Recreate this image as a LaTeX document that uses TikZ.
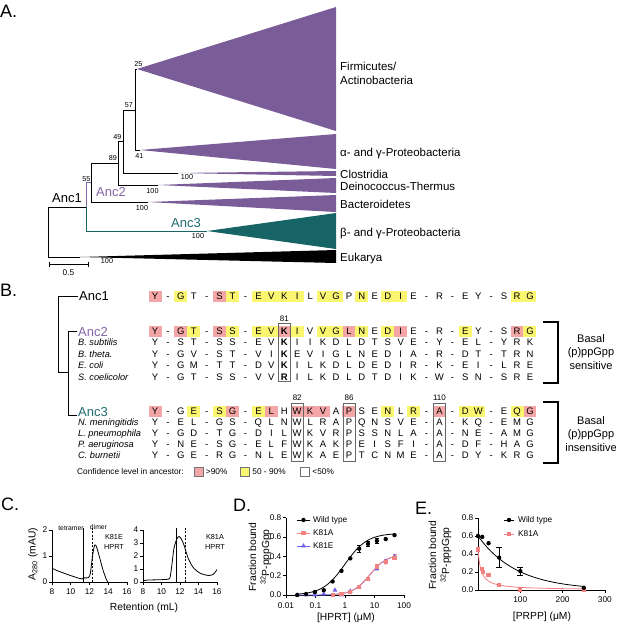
\documentclass[tikz,border=0pt]{standalone}
\usepackage{fontspec}
\setmainfont{Liberation Sans}
\usetikzlibrary{positioning,shapes.geometric}

\definecolor{cladepurple}{RGB}{122,92,153}
\definecolor{cladeteal}{RGB}{22,100,102}
\definecolor{anctwo}{RGB}{130,102,170}
\definecolor{ancthree}{RGB}{30,108,110}
\definecolor{hipink}{RGB}{244,166,166}
\definecolor{hiyellow}{RGB}{250,246,112}
\definecolor{mutpink}{RGB}{242,130,130}
\definecolor{mutblue}{RGB}{108,96,232}

% one aligned row: name, y, residues
\newcommand{\seqrow}[3]{%
  \foreach \c [count=\i from 0] in {#3}
    \node[aa] (#1-\i) at (155+12.93*\i, #2) {\c};}
% shaded cells: colour, y, columns
\newcommand{\cellfill}[3]{%
  \foreach \i in {#3}
    \fill[#1] (148.5+12.93*\i, #2-5.5) rectangle (161.5+12.93*\i, #2+5.5);}
% boxed column: column, top, bottom
\newcommand{\colbox}[3]{%
  \draw[boxline] (149+12.93*#1, #2) rectangle (161+12.93*#1, #3);}

\begin{document}
\begin{tikzpicture}[x=1pt,y=-1pt,
  panel/.style={font=\fontsize{18}{20}\selectfont, anchor=west, inner sep=0pt},
  clade/.style={font=\fontsize{11.5}{13}\selectfont, anchor=west, inner sep=0pt, text height=8.2pt, text depth=0pt},
  support/.style={font=\fontsize{7.2}{8}\selectfont, inner sep=0pt},
  ancname/.style={font=\fontsize{13}{15}\selectfont, inner sep=0pt, text height=9.3pt, text depth=0pt},
  branch/.style={line width=0.9pt},
  aa/.style={font=\fontsize{9.5}{11}\selectfont, inner sep=0pt, text height=6.8pt, text depth=0pt},
  species/.style={font=\fontsize{9.2}{11}\selectfont\itshape, anchor=west, inner sep=0pt, text height=6.6pt, text depth=0pt},
  posnum/.style={font=\fontsize{8}{9}\selectfont, inner sep=0pt},
  boxline/.style={draw=black!60, line width=0.7pt},
  bracket/.style={line width=1.1pt},
  legtext/.style={font=\fontsize{8.3}{10}\selectfont, inner sep=0pt},
  legbox/.style={draw=black!55, line width=0.5pt, minimum size=9pt, inner sep=0pt},
  axis/.style={line width=0.8pt},
  tick/.style={font=\fontsize{8.3}{9}\selectfont, inner sep=0pt},
  small/.style={font=\fontsize{7.3}{9.5}\selectfont, inner sep=0pt},
  axtitle/.style={font=\fontsize{10.3}{13}\selectfont, inner sep=0pt},
  curve/.style={line width=0.8pt},
  wtdot/.style={circle, fill=black, inner sep=0pt, minimum size=4.4pt},
  asq/.style={rectangle, fill=mutpink, inner sep=0pt, minimum size=4.2pt},
  etri/.style={regular polygon, regular polygon sides=3, fill=mutblue, inner sep=0pt, minimum size=5.6pt},
  errbar/.style={line width=0.8pt},
]
\useasboundingbox (0,0) rectangle (617,625);

%% A. tree of HPRT
\node[panel] (pA) at (0,11) {A.};

\fill[cladepurple] (137,69) -- (336,7) -- (336,131) -- cycle;
\fill[cladepurple] (140,150) -- (336,134) -- (336,169) -- cycle;
\fill[cladepurple] (178,173) -- (336,171) -- (336,176) -- cycle;
\fill[cladepurple] (158,185) -- (336,178) -- (336,193) -- cycle;
\fill[cladepurple] (148,202) -- (336,195) -- (336,212) -- cycle;
\fill[cladeteal] (207,231) -- (336,213) -- (336,249) -- cycle;
\fill[black] (80,257) -- (336,250) -- (336,263) -- cycle;

\draw[branch] (135,69) -- (137,69);
\draw[branch] (135,69) -- (135,150) -- (140,150);
\draw[branch] (123,110) -- (135,110);
\draw[branch] (123,110) -- (123,173) -- (178,173);
\draw[branch] (118,141) -- (123,141);
\draw[branch] (118,141) -- (118,185) -- (158,185);
\draw[branch] (91,163) -- (118,163);
\draw[branch] (91,163) -- (91,202) -- (148,202);
\draw[branch, anctwo] (91,182) -- (86,182) -- (86,207.4);
\draw[branch, cladeteal] (86,206.6) -- (86,231) -- (207,231);
\draw[branch] (86,207) -- (48,207) -- (48,257) -- (80,257);

\node[support] (s25) at (138.5,64) {25};
\node[support] (s57) at (129,105) {57};
\node[support] (s49) at (117.5,137) {49};
\node[support] (s41) at (139.5,156) {41};
\node[support] (s89) at (113,158) {89};
\node[support] (s55) at (86.5,179.5) {55};
\node[support] (s100a) at (187,177) {100};
\node[support] (s100b) at (152.5,191) {100};
\node[support] (s100c) at (142,208) {100};
\node[support] (s100d) at (198,236) {100};
\node[support] (s100e) at (107,261) {100};

\node[ancname] (tA1) at (67,198) {Anc1};
\node[ancname, anctwo] (tA2) at (111,192) {Anc2};
\node[ancname, ancthree] (tA3) at (186,223) {Anc3};

\draw[branch] (49,264) -- (88,264);
\draw[branch] (49,261.5) -- (49,266.5);
\draw[branch] (88,261.5) -- (88,266.5);
\node[tick] (scl) at (68.5,273) {0.5};

\node[clade] (firm) at (340,66) {Firmicutes/};
\node[clade] (actino) at (340,80) {Actinobacteria};
\node[clade] (alpha) at (340,152) {α- and γ-Proteobacteria};
\node[clade] (clos) at (340,174) {Clostridia};
\node[clade] (deino) at (340,186.5) {Deinococcus-Thermus};
\node[clade] (bact) at (340,204) {Bacteroidetes};
\node[clade] (beta) at (340,232) {β- and γ-Proteobacteria};
\node[clade] (euk) at (340,257) {Eukarya};

%% B. alignment
\node[panel] (pB) at (0,290) {B.};

\draw[branch] (78,296) -- (58,296) -- (58,372) -- (68,372);
\draw[branch] (77,331.5) -- (68,331.5) -- (68,415) -- (77,415);

\node[ancname, anchor=west] (bA1) at (79,296) {Anc1};
\node[ancname, anchor=west, anctwo] (bA2) at (78,331.5) {Anc2};
\node[ancname, anchor=west, ancthree] (bA3) at (78,411.5) {Anc3};
\node[species] (bsub) at (78,342.5) {B. subtilis};
\node[species] (bthe) at (78,354) {B. theta.};
\node[species] (ecol) at (78,365.5) {E. coli};
\node[species] (scoe) at (78,377) {S. coelicolor};
\node[species] (nmen) at (78,422.5) {N. meningitidis};
\node[species] (lpne) at (78,433.5) {L. pneumophila};
\node[species] (paer) at (78,444.5) {P. aeruginosa};
\node[species] (cbur) at (78,455.5) {C. burnetii};

\cellfill{hipink}{296}{0,5}
\cellfill{hiyellow}{296}{2,6,8,9,10,11,13,14,16,18,19,28,29}
\cellfill{hipink}{331.5}{0,2,5,10,15,19,28}
\cellfill{hiyellow}{331.5}{3,6,8,9,11,13,14,16,18,24,29}
\cellfill{hipink}{411.5}{0,6,9,11,12,13,15,22,29}
\cellfill{hiyellow}{411.5}{3,5,8,18,20,24,25,28}

\seqrow{anc1}{296}{Y,-,G,T,-,S,T,-,E,V,K,I,L,V,G,P,N,E,D,I,E,-,R,-,E,Y,-,S,R,G}
\seqrow{anc2}{331.5}{Y,-,G,T,-,S,S,-,E,V,\textbf{K},I,V,V,G,L,N,E,D,I,E,-,R,-,E,Y,-,S,R,G}
\seqrow{bsu}{342.5}{Y,-,S,T,-,S,S,-,E,V,\textbf{K},I,I,K,D,L,D,T,S,V,E,-,Y,-,E,L,-,Y,R,K}
\seqrow{bth}{354}{Y,-,G,V,-,S,T,-,V,I,\textbf{K},E,V,I,G,L,N,E,D,I,A,-,R,-,D,T,-,T,R,N}
\seqrow{eco}{365.5}{Y,-,G,M,-,T,T,-,D,V,\textbf{K},I,L,K,D,L,D,E,D,I,R,-,K,-,E,I,-,L,R,E}
\seqrow{sco}{377}{Y,-,G,T,-,S,S,-,V,V,\textbf{R},I,L,K,D,L,D,T,D,I,K,-,W,-,S,N,-,S,R,E}
\seqrow{anc3}{411.5}{Y,-,G,E,-,S,G,-,E,L,H,W,K,V,A,P,S,E,N,L,R,-,A,-,D,W,-,E,Q,G}
\seqrow{nme}{422.5}{Y,-,E,L,-,G,S,-,Q,L,N,W,L,R,A,P,Q,N,S,V,E,-,A,-,K,Q,-,E,M,G}
\seqrow{lpn}{433.5}{Y,-,G,D,-,T,G,-,D,I,L,W,K,V,R,P,S,S,N,L,A,-,A,-,N,E,-,A,M,G}
\seqrow{pae}{444.5}{Y,-,N,E,-,S,G,-,E,L,F,W,K,A,K,P,E,I,S,F,I,-,A,-,D,F,-,H,A,G}
\seqrow{cbu}{455.5}{Y,-,G,E,-,R,G,-,N,L,E,W,K,A,E,P,T,C,N,M,E,-,A,-,D,Y,-,K,R,G}

\colbox{10}{323.5}{381}
\colbox{11}{403}{461}
\colbox{15}{403}{461}
\colbox{22}{403}{461}
\node[posnum] (p81) at (284.3,319) {81};
\node[posnum] (p82) at (297.2,398) {82};
\node[posnum] (p86) at (349,398) {86};
\node[posnum] (p110) at (439.5,398) {110};

\draw[bracket] (543,322) -- (558,322) -- (558,383) -- (543,383);
\draw[bracket] (543,402) -- (558,402) -- (558,463) -- (543,463);
\node[clade, anchor=center, align=center, text height=, text depth=, font=\fontsize{11}{13.5}\selectfont] (sens) at (591,352) {Basal\\(p)ppGpp\\sensitive};
\node[clade, anchor=center, align=center, text height=, text depth=, font=\fontsize{11}{13.5}\selectfont] (insens) at (591,434) {Basal\\(p)ppGpp\\insensitive};

\node[legtext, anchor=west] (conf) at (77,472) {Confidence level in ancestor:};
\node[legbox, fill=hipink] (lgp) at (198.5,472) {};
\node[legtext, right=2.5pt of lgp] (lgpt) {>90\%};
\node[legbox, fill=hiyellow] (lgy) at (245,472) {};
\node[legtext, right=2.5pt of lgy] (lgyt) {50 - 90\%};
\node[legbox, fill=white] (lgw) at (305,472) {};
\node[legtext, right=2.5pt of lgw] (lgwt) {<50\%};

%% C. gel filtration
\node[panel] (pC) at (1,504) {C.};
\begin{scope}[shift={(-23,582)}, x=9.375pt, y=26pt]
  \draw[axis] (8,2) -- (8,0) -- (16,0);
  \foreach \v in {0,1,2} {
    \draw[axis] (8,\v) -- ++(-3pt,0);
    \node[tick, anchor=east] (cly\v) at ([xshift=-4.5pt]8,\v) {\v};
  }
  \foreach \v in {8,10,...,16} {
    \draw[axis] (\v,0) -- ++(0,-3pt);
    \node[tick] (clx\v) at ([yshift=-10pt]\v,0) {\v};
  }
  \draw[curve] (11.34,0) -- (11.34,2.08);
  \draw[curve, dashed, dash pattern=on 2pt off 1.5pt] (12.34,0) -- (12.34,2.1);
  \draw[curve] plot[smooth, tension=0.45] coordinates {(8,0.53) (8.6,0.43) (9.2,0.35) (9.8,0.27) (10.4,0.2) (10.9,0.14) (11.2,0.12) (11.45,0.16) (11.9,0.17) (12.1,0.35) (12.3,0.95) (12.55,1.42) (12.75,1.35) (13.05,0.98) (13.45,0.45) (13.8,0.1) (13.95,0)};
\end{scope}
\begin{scope}[shift={(69,582)}, x=9.25pt, y=13pt]
  \draw[axis] (8,4) -- (8,0) -- (16,0);
  \foreach \v in {0,...,4} {
    \draw[axis] (8,\v) -- ++(-3pt,0);
    \node[tick, anchor=east] (cry\v) at ([xshift=-4.5pt]8,\v) {\v};
  }
  \foreach \v in {8,10,...,16} {
    \draw[axis] (\v,0) -- ++(0,-3pt);
    \node[tick] (crx\v) at ([yshift=-10pt]\v,0) {\v};
  }
  \draw[curve] (11.57,0) -- (11.57,4.15);
  \draw[curve, dashed, dash pattern=on 2pt off 1.5pt] (12.54,0) -- (12.54,4.2);
  \draw[curve] plot[smooth, tension=0.45] coordinates {(8,0.1) (8.5,0.15) (9.5,0.17) (10.5,0.2) (10.9,0.3) (11.1,1.2) (11.35,2.6) (11.65,3.3) (11.9,3.5) (12.15,3.3) (12.45,2.8) (12.9,1.8) (13.45,1.1) (14.2,0.67) (15.1,0.5) (15.6,0.6) (16,0.95)};
\end{scope}
\node[small, font=\fontsize{6.8}{8}\selectfont] (tetra) at (71,528) {tetramer};
\node[small, font=\fontsize{6.8}{8}\selectfont] (dimer) at (98.5,527) {dimer};
\node[small, align=center] (k81e) at (114,542) {K81E\\HPRT};
\node[small, align=center] (k81a) at (215,542) {K81A\\HPRT};
\node[axtitle] (ret) at (144,608) {Retention (mL)};
\node[axtitle, rotate=90] (a280) at (33,554) {A\textsubscript{280} (mAU)};

%% D. binding vs HPRT
\node[panel] (pD) at (233,505) {D.};
\begin{scope}[shift={(345,595)}, x=29.5pt, y=96.5pt]
  \draw[axis] (-2,0.8) -- (-2,0) -- (2,0);
  \foreach \v [count=\k] in {0.0,0.2,0.4,0.6,0.8} {
    \draw[axis] (-2,\v) -- ++(-3pt,0);
    \node[tick, anchor=east] (dy\k) at ([xshift=-4.5pt]-2,\v) {\v};
  }
  \foreach \t/\l [count=\k] in {-2/0.01,-1/0.1,0/1,1/10,2/100} {
    \draw[axis] (\t,0) -- ++(0,-3pt);
    \node[tick] (dx\k) at ([yshift=-11pt]\t,0) {\l};
  }
  \draw[curve] plot[domain=-1.65:1.7, samples=80, smooth] (\x, {0.64/(1+pow(10,-1.15*\x))});
  \draw[curve, mutblue] plot[domain=-1.65:1.7, samples=80, smooth] (\x, {0.42/(1+pow(10,1.5*(0.845-\x)))});
  \draw[curve, mutpink] plot[domain=-0.45:1.7, samples=60, smooth] (\x, {0.42/(1+pow(10,1.5*(0.845-\x)))});
  \foreach \t/\f/\e in {0.48/0.48/0.035,0.78/0.53/0.025,1.08/0.56/0.025} {
    \draw[errbar] (\t,{\f-\e}) -- (\t,{\f+\e});
    \draw[errbar] ([xshift=-2pt]\t,{\f+\e}) -- ([xshift=2pt]\t,{\f+\e});
    \draw[errbar] ([xshift=-2pt]\t,{\f-\e}) -- ([xshift=2pt]\t,{\f-\e});
  }
  \foreach \t/\f/\e in {1.08/0.29/0.03,1.38/0.34/0.025,1.68/0.4/0.02} {
    \draw[errbar, mutpink] (\t,{\f-\e}) -- (\t,{\f+\e});
    \draw[errbar, mutpink] ([xshift=-2pt]\t,{\f+\e}) -- ([xshift=2pt]\t,{\f+\e});
  }
  \foreach \t/\f [count=\k] in {-1.62/0.0,-1.32/0.0,-1.02/0.0,-0.72/0.01,-0.34/0.05,-0.12/0.0,0.18/0.04,0.48/0.08,0.78/0.16,1.08/0.27,1.38/0.35,1.68/0.4}
    \node[etri] (de\k) at (\t,\f) {};
  \foreach \t/\f [count=\k] in {-0.42/0.0,-0.12/0.01,0.18/0.03,0.48/0.08,0.78/0.17,1.08/0.29,1.38/0.34,1.68/0.38}
    \node[asq] (da\k) at (\t,\f) {};
  \foreach \t/\f [count=\k] in {-1.62/0.0,-1.32/0.01,-1.02/0.03,-0.72/0.05,-0.42/0.14,-0.12/0.25,0.18/0.38,0.48/0.48,0.78/0.53,1.08/0.56,1.38/0.58,1.68/0.62}
    \node[wtdot] (dw\k) at (\t,\f) {};
\end{scope}
\draw[curve] (297,520) -- (310,520);
\node[wtdot] (dlw) at (303.5,520) {};
\node[legtext, anchor=west] (dlwt) at (313,520) {Wild type};
\draw[curve, mutpink] (297,533) -- (310,533);
\node[asq] (dla) at (303.5,533) {};
\node[legtext, anchor=west] (dlat) at (313,533) {K81A};
\draw[curve, mutblue] (297,546) -- (310,546);
\node[etri] (dle) at (303.5,546) {};
\node[legtext, anchor=west] (dlet) at (313,546) {K81E};
\node[axtitle, rotate=90, align=center] (dyt) at (260,557) {Fraction bound\\\textsuperscript{32}P-pppGpp};
\node[axtitle] (dxt) at (346,618) {[HPRT] (μM)};

%% E. competition with PRPP
\node[panel] (pE) at (415,508) {E.};
\begin{scope}[shift={(478,590)}, x=0.423pt, y=90pt]
  \draw[axis] (0,0.8) -- (0,0) -- (300,0);
  \foreach \v [count=\k] in {0.0,0.2,0.4,0.6,0.8} {
    \draw[axis] (0,\v) -- ++(-3pt,0);
    \node[tick, anchor=east] (ey\k) at ([xshift=-4.5pt]0,\v) {\v};
  }
  \foreach \v in {100,200,300} {
    \draw[axis] (\v,0) -- ++(0,-3pt);
    \node[tick] (ex\v) at ([yshift=-10pt]\v,0) {\v};
  }
  \draw[curve] plot[domain=0:250, samples=60, smooth] (\x, {0.6*exp(-\x/92)});
  \draw[curve, mutpink] plot[domain=0:250, samples=100, smooth] (\x, {0.45/(1+\x/7)});
  \foreach \c/\f/\e in {50/0.36/0.11,100/0.21/0.045} {
    \draw[errbar] (\c,{\f-\e}) -- (\c,{\f+\e});
    \draw[errbar] ([xshift=-3pt]\c,{\f+\e}) -- ([xshift=3pt]\c,{\f+\e});
    \draw[errbar] ([xshift=-3pt]\c,{\f-\e}) -- ([xshift=3pt]\c,{\f-\e});
  }
  \foreach \c/\f [count=\k] in {0/0.45,9/0.23,11/0.2,25/0.17,50/0.06,100/0.005,250/0.0}
    \node[asq] (ea\k) at (\c,\f) {};
  \foreach \c/\f [count=\k] in {0/0.6,10/0.59,25/0.52,50/0.36,100/0.21,250/0.025}
    \node[wtdot] (ew\k) at (\c,\f) {};
\end{scope}
\draw[curve] (504,520) -- (514,520);
\node[wtdot] (elw) at (509,520) {};
\node[legtext, anchor=west] (elwt) at (518,520) {Wild type};
\draw[curve, mutpink] (504,534) -- (514,534);
\node[asq] (ela) at (509,534) {};
\node[legtext, anchor=west] (elat) at (518,534) {K81A};
\node[axtitle, rotate=90, align=center] (eyt) at (440,555) {Fraction bound\\\textsuperscript{32}P-pppGpp};
\node[axtitle] (ext) at (542,617) {[PRPP] (μM)};
\end{tikzpicture}
\end{document}
